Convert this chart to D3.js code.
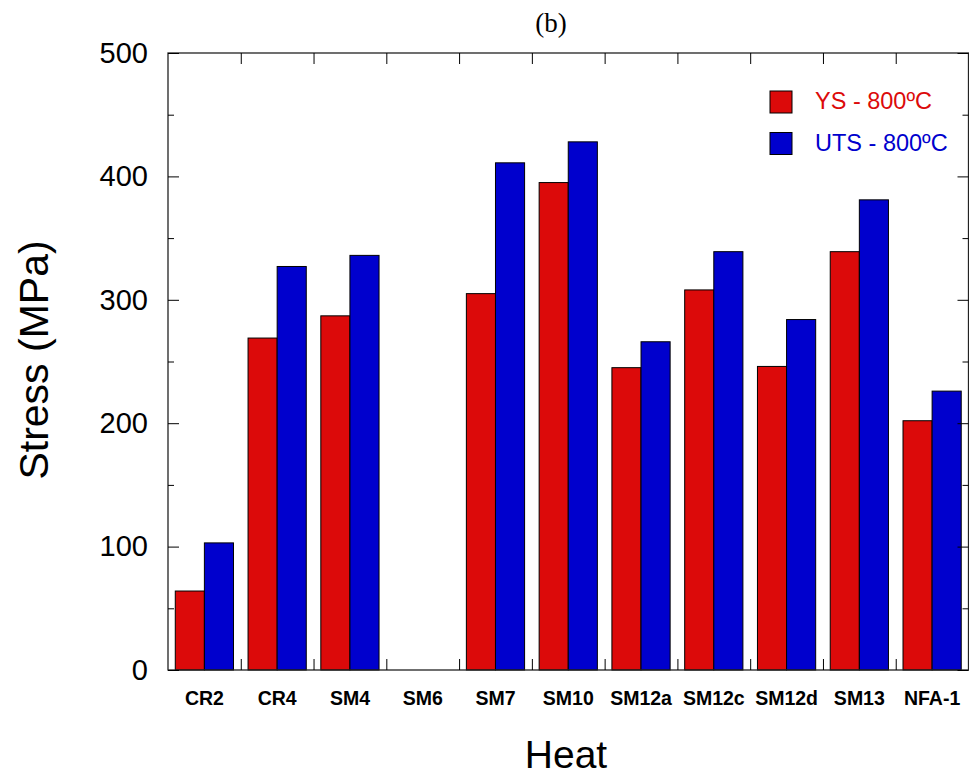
<!DOCTYPE html>
<html>
<head>
    <script src="https://d3js.org/d3.v7.min.js"></script>
    <style>
        body { margin: 0; background: #fff; }
        text { font-family: "Liberation Sans", Arial, sans-serif; }
    </style>
</head>
<body>
    <svg width="969" height="777"></svg>
    <script>
        const heats = ["CR2", "CR4", "SM4", "SM6", "SM7", "SM10", "SM12a", "SM12c", "SM12d", "SM13", "NFA-1"];
        const ys800 = [64, 269, 287, null, 305, 395, 245, 308, 246, 339, 202];
        const uts800 = [103, 327, 336, null, 411, 428, 266, 339, 284, 381, 226];
        const seriesNames = ["YS - 800ºC", "UTS - 800ºC"];
        const seriesColors = ["#dc0a0a", "#0000cd"];
        const yTicks = [0, 100, 200, 300, 400, 500];
        const yMinor = [50, 150, 250, 350, 450];

        const pLeft = 168, pRight = 968.5, pTop = 53, pBottom = 670;

        const svg = d3.select("svg");

        const x0 = d3.scaleBand().domain(heats).range([pLeft, pRight]);
        const x1 = d3.scaleBand().domain([0, 1]).range([0, x0.bandwidth()])
            .paddingInner(0).paddingOuter(0.25);
        const y = d3.scaleLinear().domain([0, 500]).range([pBottom, pTop]);
        const xIdx = d3.scaleLinear().domain([0, heats.length]).range([pLeft, pRight]);

        // bars
        const rows = heats.map((h, i) => ({ heat: h, vals: [ys800[i], uts800[i]] }));
        const groups = svg.selectAll("g.heat")
            .data(rows)
            .enter().append("g")
            .attr("class", "heat")
            .attr("transform", d => "translate(" + x0(d.heat) + ",0)");

        groups.selectAll("rect")
            .data(d => d.vals.map((v, k) => ({ v, k })).filter(e => e.v != null))
            .enter().append("rect")
            .attr("x", d => x1(d.k))
            .attr("y", d => y(d.v))
            .attr("width", x1.bandwidth())
            .attr("height", d => y(0) - y(d.v))
            .attr("fill", d => seriesColors[d.k])
            .attr("stroke", "#000")
            .attr("stroke-width", 1);

        // frame
        svg.append("rect")
            .attr("x", pLeft).attr("y", pTop)
            .attr("width", pRight - pLeft).attr("height", pBottom - pTop)
            .attr("fill", "none").attr("stroke", "#222").attr("stroke-width", 1.3);

        // left axis
        const yAxis = svg.append("g")
            .attr("transform", "translate(" + pLeft + ",0)")
            .call(d3.axisLeft(y).tickValues(yTicks).tickSizeInner(-11).tickSizeOuter(0).tickPadding(20));
        yAxis.select(".domain").remove();
        yAxis.selectAll("text").attr("font-size", 29).attr("fill", "#000")
            .style("font-family", "'Liberation Sans', Arial, sans-serif");

        svg.append("g")
            .attr("transform", "translate(" + pLeft + ",0)")
            .call(d3.axisLeft(y).tickValues(yMinor).tickSizeInner(-6).tickSizeOuter(0).tickFormat(""))
            .select(".domain").remove();

        // right axis
        svg.append("g")
            .attr("transform", "translate(" + pRight + ",0)")
            .call(d3.axisRight(y).tickValues(yTicks).tickSizeInner(-11).tickSizeOuter(0).tickFormat(""))
            .select(".domain").remove();
        svg.append("g")
            .attr("transform", "translate(" + pRight + ",0)")
            .call(d3.axisRight(y).tickValues(yMinor).tickSizeInner(-6).tickSizeOuter(0).tickFormat(""))
            .select(".domain").remove();

        // category boundary ticks, bottom and top
        svg.append("g")
            .attr("transform", "translate(0," + pBottom + ")")
            .call(d3.axisBottom(xIdx).tickValues(d3.range(1, heats.length)).tickSizeInner(-11).tickSizeOuter(0).tickFormat(""))
            .select(".domain").remove();
        svg.append("g")
            .attr("transform", "translate(0," + pTop + ")")
            .call(d3.axisTop(xIdx).tickValues(d3.range(1, heats.length)).tickSizeInner(-11).tickSizeOuter(0).tickFormat(""))
            .select(".domain").remove();

        // category labels
        const xAxis = svg.append("g")
            .attr("transform", "translate(0," + pBottom + ")")
            .call(d3.axisBottom(x0).tickSize(0).tickPadding(21));
        xAxis.select(".domain").remove();
        xAxis.selectAll("text").attr("font-size", 19.5).attr("font-weight", "bold").attr("fill", "#000")
            .style("font-family", "'Liberation Sans', Arial, sans-serif");

        // axis titles
        svg.append("text")
            .attr("x", 566)
            .attr("y", 768)
            .attr("text-anchor", "middle")
            .attr("font-size", 39)
            .text("Heat");

        svg.append("text")
            .attr("transform", "rotate(-90)")
            .attr("x", -360)
            .attr("y", 48)
            .attr("text-anchor", "middle")
            .attr("font-size", 41)
            .text("Stress (MPa)");

        svg.append("text")
            .attr("x", 551)
            .attr("y", 32)
            .attr("text-anchor", "middle")
            .attr("font-size", 27)
            .style("font-family", "'Liberation Serif', 'Times New Roman', serif")
            .text("(b)");

        // legend
        const legend = svg.append("g").attr("transform", "translate(770,91)");
        seriesNames.forEach((name, k) => {
            legend.append("rect")
                .attr("x", 0).attr("y", k * 41.5)
                .attr("width", 22).attr("height", 22)
                .attr("fill", seriesColors[k])
                .attr("stroke", "#000").attr("stroke-width", 1);
            legend.append("text")
                .attr("x", 45).attr("y", k * 41.5 + 18)
                .attr("font-size", 23.5)
                .attr("fill", seriesColors[k])
                .text(name);
        });
    </script>
</body>
</html>
